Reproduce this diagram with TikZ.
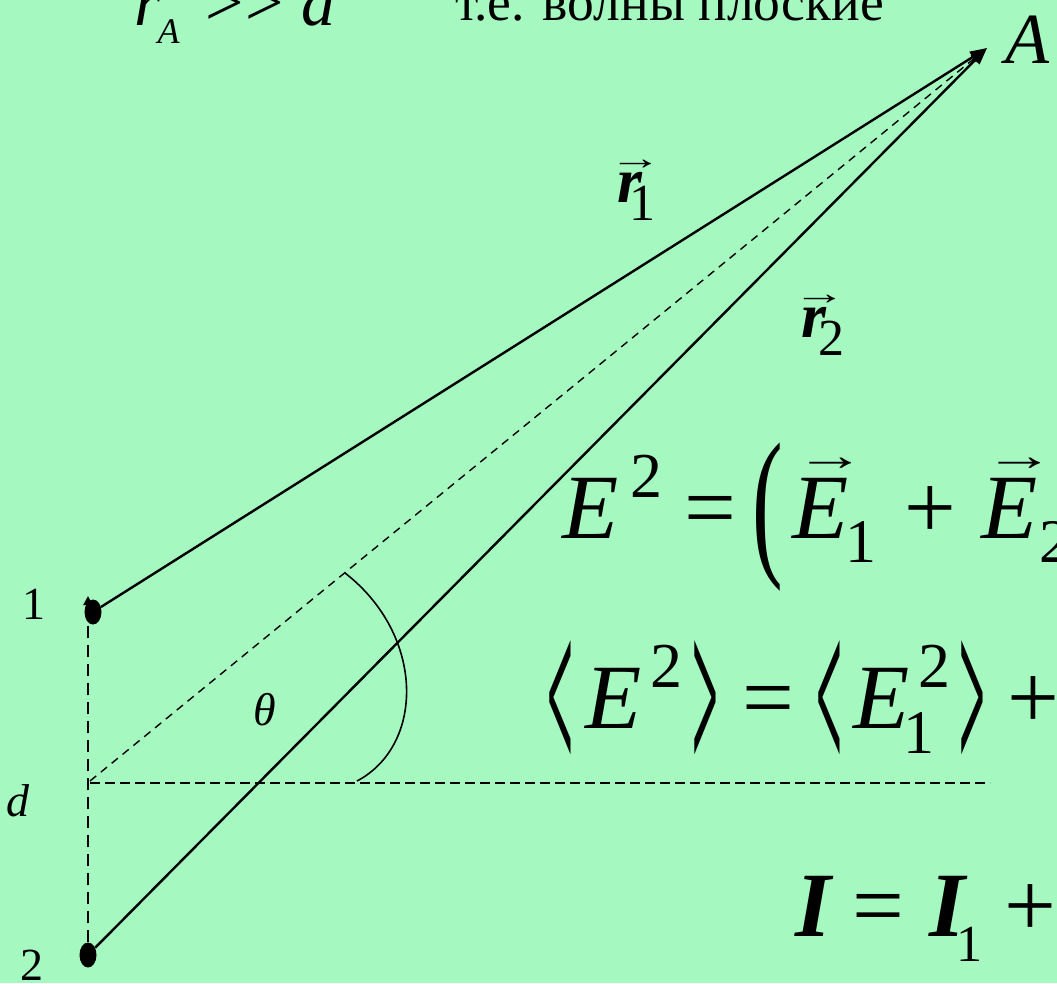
\documentclass[tikz,border=0pt]{standalone}
\usepackage{graphicx}
\usepackage{fontspec}
\setmainfont{Liberation Serif}
\usetikzlibrary{arrows.meta, shapes.geometric}
\definecolor{slidebg}{RGB}{165,249,192}
\newcommand{\idx}[3]{\raisebox{#1}{\fontsize{#2}{#2}\selectfont\upshape\mdseries #3}}
\newcommand{\vecarrow}[4]{\rlap{\kern#1\raisebox{#2}{\fontsize{#3}{#3}\selectfont\upshape\mdseries\scalebox{1.6}[1]{→}}}#4}
\newcommand{\tallparen}{\raisebox{-18pt}{\scalebox{1}[1.78]{\upshape (}}}
\newcommand{\tallL}{\raisebox{-45pt}{\resizebox*{26pt}{133pt}{\bfseries\upshape <}}}
\newcommand{\tallR}{\raisebox{-45pt}{\resizebox*{26pt}{133pt}{\bfseries\upshape >}}}
\tikzset{
  srcdot/.style={ellipse, fill=black, inner sep=0pt, minimum width=17pt, minimum height=25pt},
  ray/.style={-{Triangle[length=17pt, width=12pt]}, line width=2.4pt},
  sepline/.style={dash pattern=on 12pt off 7pt, line width=2.6pt},
  axisline/.style={dash pattern=on 10pt off 5pt, line width=1.8pt},
  guide/.style={dash pattern=on 8pt off 6pt, line width=1.4pt},
  anglearc/.style={line width=1.6pt},
  lbl/.style={anchor=base west, inner sep=0pt, font=\fontsize{46}{46}\selectfont},
  veclbl/.style={anchor=base west, inner sep=0pt, font=\fontsize{64}{64}\selectfont},
  formula/.style={anchor=base west, inner sep=0pt, font=\fontsize{92}{92}\selectfont},
  toptext/.style={anchor=base west, inner sep=0pt, font=\fontsize{53.5}{53.5}\selectfont},
}

\begin{document}
\begin{tikzpicture}[x=1pt, y=-1pt]

  % --- Slide ---
  \useasboundingbox (0,0) rectangle (1057,983);
  \clip (0,0) rectangle (1057,983);
  \fill[slidebg] (0,0) rectangle (1057,983);

  % --- Sources and field point ---
  \node[srcdot] (p1) at (93,612) {};
  \node[srcdot] (p2) at (88,955) {};
  \coordinate (t1) at (88,596);
  \coordinate (a) at (987,48);
  \coordinate (m) at (90,781);
  \coordinate (h) at (990,783);

  % --- Rays ---
  \draw[sepline, -{Triangle[length=9pt, width=9pt]}] (p2) -- (t1);
  \draw[axisline] (m |- h) -- (h);
  \draw[guide] (m) -- (a);
  \draw[ray] (p1) -- (a);
  \draw[ray] (p2) -- (a);

  % --- Angle ---
  \coordinate (arc-s) at (357,781);
  \coordinate (arc-e) at (345,573);
  \draw[anglearc] (arc-s) .. controls (425,745) and (425,635) .. (arc-e);

  % --- Labels ---
  \node[lbl] (n1) at (22,619) {1};
  \node[lbl] (n2) at (20,980) {2};
  \node[lbl] (dlbl) at (6,816) {\itshape d};
  \node[lbl] (theta) at (253,725) {\itshape θ};
  \node[veclbl] (r1) at (617,202) {\vecarrow{-8pt}{33pt}{33}{\bfseries\itshape r}\kern-13pt\idx{-18pt}{52}{1}};
  \node[veclbl] (r2) at (801,337) {\vecarrow{-8pt}{33pt}{33}{\bfseries\itshape r}\kern-8pt\idx{-18pt}{52}{2}};
  \node[formula, font=\fontsize{72}{72}\selectfont] (albl) at (1005,63) {\itshape A};

  % --- Top line ---
  \node[toptext, font=\fontsize{68}{68}\selectfont] (cond) at (134,25)
    {\itshape r\kern-3pt\idx{-18pt}{36}{\itshape A}\kern26pt\upshape >\kern2pt>\kern17pt\itshape d};
  \node[toptext] (plane) at (455,20) {т.е. волны плоские};

  % --- Formulas ---
  \node[formula] (eq1) at (562,538)
    {\itshape E\kern12pt\idx{41pt}{64}{2}\kern22pt\upshape =\kern16pt\tallparen\kern10pt\vecarrow{3pt}{68pt}{44}{\itshape E}\kern-4pt\idx{-24pt}{62}{1}\kern22pt+\kern21pt\vecarrow{3pt}{68pt}{44}{\itshape E}\kern2pt\idx{-24pt}{62}{2}};
  \node[formula] (eq2) at (547,728)
    {\tallL\kern12pt\itshape E\kern9pt\idx{41pt}{64}{2}\kern10pt\tallR\kern24pt\upshape =\kern22pt\tallL\kern11pt\itshape E\kern-6pt\rlap{\idx{-25pt}{62}{1}}\kern15pt\idx{41pt}{64}{2}\kern9pt\tallR\kern22pt\upshape +};
  \node[formula, font=\fontsize{92}{92}\selectfont\bfseries\itshape] (eq3) at (795,936)
    {I\kern21pt\upshape\mdseries =\kern26pt\bfseries\itshape I\kern-9pt\idx{-25pt}{52}{1}\kern22pt\upshape\mdseries +};

\end{tikzpicture}
\end{document}
